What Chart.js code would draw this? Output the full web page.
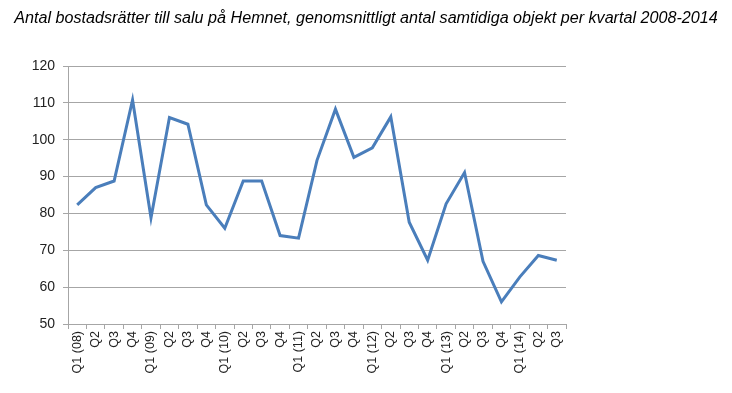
<!DOCTYPE html>
<html>
<head>
<meta charset="utf-8">
<script src="https://cdn.jsdelivr.net/npm/chart.js@4"></script>
<style>
  html, body { margin: 0; padding: 0; background: #fff; }
  #wrap { width: 732px; height: 393px; }
</style>
</head>
<body>
<div id="wrap"><canvas id="hemnetChart" width="732" height="393"></canvas></div>
<script>
var quarters = [
  "Q1 (08)","Q2","Q3","Q4",
  "Q1 (09)","Q2","Q3","Q4",
  "Q1 (10)","Q2","Q3","Q4",
  "Q1 (11)","Q2","Q3","Q4",
  "Q1 (12)","Q2","Q3","Q4",
  "Q1 (13)","Q2","Q3","Q4",
  "Q1 (14)","Q2","Q3"
];

var objectCounts = [
  82.3, 87.0, 88.8, 110.8,
  78.8, 106.0, 104.2, 82.3,
  76.0, 88.8, 88.8, 74.0,
  73.3, 94.4, 108.3, 95.2,
  97.8, 106.2, 77.6, 67.3,
  82.6, 91.1, 67.0, 56.0,
  62.8, 68.6, 67.3
];

var yTicks = [50, 60, 70, 80, 90, 100, 110, 120];

var titleText = "Antal bostadsrätter till salu på Hemnet, genomsnittligt antal samtidiga objekt per kvartal 2008-2014";

Chart.defaults.font.family = "'Liberation Sans', Arial, sans-serif";
Chart.defaults.color = "#222";

// title centred on the whole canvas, sized to span ~704px like the original
const pageTitle = {
  id: 'pageTitle',
  afterDraw: function (chart) {
    const c = chart.ctx;
    const fam = "'Liberation Sans', Arial, sans-serif";
    c.save();
    c.font = "italic 14px " + fam;
    let size = 14 * 704 / c.measureText(titleText).width;
    c.font = "italic " + size.toFixed(2) + "px " + fam;
    c.fillStyle = '#000';
    c.textAlign = 'center';
    c.textBaseline = 'middle';
    c.fillText(titleText, 366, 19);
    c.restore();
  }
};

var ctx = document.getElementById("hemnetChart").getContext("2d");

var hemnetChart = new Chart(ctx, {
  type: 'line',
  data: {
    labels: quarters,
    datasets: [{
      label: 'Objekt',
      data: objectCounts,
      borderColor: '#4a7ebb',
      backgroundColor: '#4a7ebb',
      borderWidth: 3,
      pointRadius: 0,
      tension: 0,
      borderJoinStyle: 'miter'
    }]
  },
  options: {
    responsive: false,
    animation: false,
    layout: {
      padding: { left: 0, right: 166, top: 66, bottom: 6 }
    },
    plugins: {
      legend: { display: false },
      tooltip: { enabled: false },
      title: { display: false }
    },
    scales: {
      x: {
        offset: true,
        grid: {
          offset: true,
          drawOnChartArea: false,
          drawTicks: true,
          tickLength: 5,
          color: '#a6a6a6'
        },
        border: { color: '#a6a6a6' },
        ticks: {
          autoSkip: false,
          maxRotation: 90,
          minRotation: 90,
          padding: 2,
          font: { size: 12.5 }
        },
        afterFit: function (scale) { scale.height = 63; }
      },
      y: {
        min: 50,
        max: 120,
        afterBuildTicks: function (scale) {
          scale.ticks = yTicks.map(function (v) { return { value: v }; });
        },
        grid: {
          color: '#a6a6a6',
          tickLength: 5
        },
        border: { color: '#a6a6a6' },
        ticks: {
          padding: 8,
          font: { size: 14 }
        },
        afterFit: function (scale) { scale.width = 68; }
      }
    }
  },
  plugins: [pageTitle]
});
</script>
</body>
</html>
